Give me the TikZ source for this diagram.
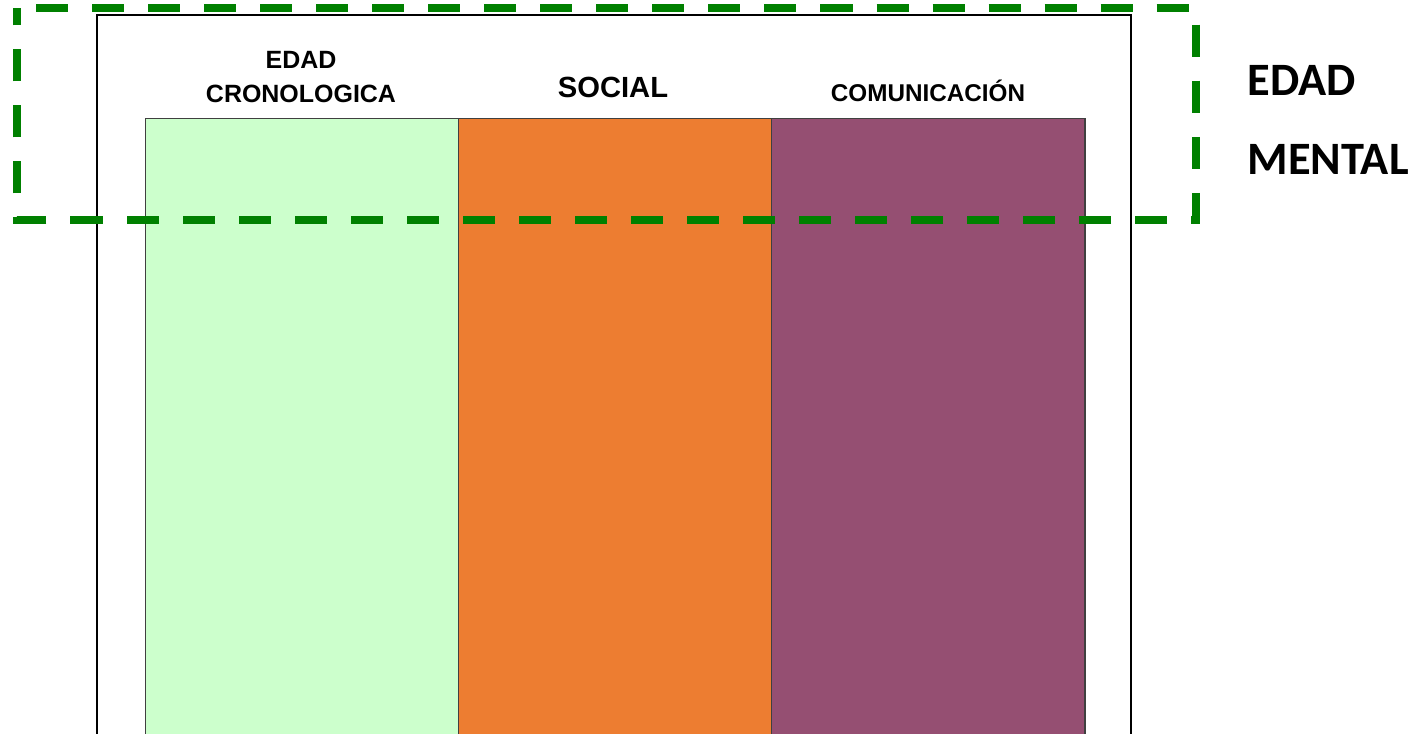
\documentclass[tikz,border=0pt]{standalone}
\usepackage{fontspec}
\setmainfont{Liberation Sans}
\newfontfamily\carlito{Carlito}
\usetikzlibrary{positioning}

\definecolor{verdeclaro}{HTML}{CCFFCC}
\definecolor{naranja}{HTML}{ED7D31}
\definecolor{morado}{HTML}{954F72}
\definecolor{verdeosc}{HTML}{008000}

\tikzset{
	barra/.style={rectangle, draw=black!75, line width=0.4pt, inner sep=0pt,
		minimum width=3.13cm, minimum height=6.6cm},
	titulo/.style={font=\bfseries, inner sep=0pt, align=center}
}

\begin{document}
\begin{tikzpicture}[x=0.01cm, y=-0.01cm]
					\useasboundingbox (0,0) rectangle (1420,734);

					\draw[line width=0.5pt] (97,800) -- (97,15) -- (1131,15) -- (1131,800);

					\node[barra,fill=verdeclaro,anchor=north west] (crono) at (145,118) {};
					\node[barra,fill=naranja,anchor=north west] (social) at (458,118) {};
					\node[barra,fill=morado,anchor=north west] (comun) at (771,118) {};

					\node[titulo,font=\fontsize{7.1}{9.6}\selectfont\bfseries,anchor=south] (tcrono) at (301,103) {EDAD\\CRONOLOGICA};
					\node[titulo,font=\fontsize{8.3}{10}\selectfont\bfseries,anchor=base] (tsocial) at (613,98) {SOCIAL};
					\node[titulo,font=\fontsize{6.9}{9}\selectfont\bfseries,anchor=base] (tcomun) at (928,102) {COMUNICACIÓN};

					\draw[verdeosc, line width=0.08cm, dash pattern=on 0.32cm off 0.24cm, dash phase=0.37cm]
						(17,8) -- (1196,8) -- (1196,220) -- (17,220) -- cycle;

					\node[font=\carlito\fontsize{13.2}{15}\selectfont\bfseries, inner sep=0pt, anchor=base west] (edad) at (1247,96) {EDAD};
					\node[font=\carlito\fontsize{13.2}{15}\selectfont\bfseries, inner sep=0pt, anchor=base west] (mental) at (1247,175) {MENTAL};
				\end{tikzpicture}
\end{document}
